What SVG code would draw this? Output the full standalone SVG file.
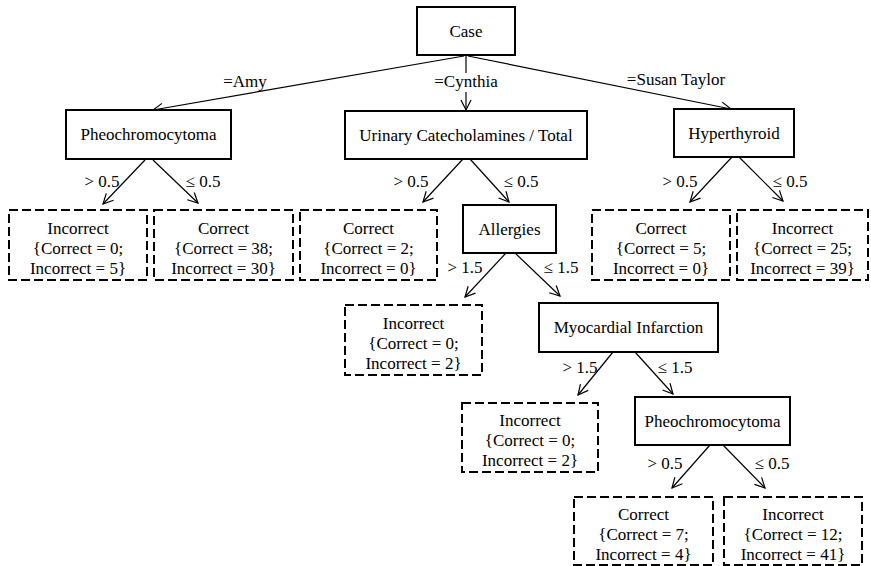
<svg xmlns="http://www.w3.org/2000/svg" width="871" height="566" viewBox="0 0 871 566">
<style>
  text { font-family: "Liberation Serif", "Times New Roman", serif; font-size: 17px; fill: #000; text-anchor: middle; }
  .node { fill: #fff; stroke: #000; stroke-width: 2; }
  .leaf { fill: #fff; stroke: #000; stroke-width: 2; stroke-dasharray: 9 4; }
  .edge { fill: none; stroke: #000; stroke-width: 1.2; }
  .arr { fill: none; stroke: #000; stroke-width: 1.2; marker-end: url(#ah); }
</style>
<defs>
  <marker id="ah" markerUnits="userSpaceOnUse" markerWidth="20" markerHeight="20" refX="10" refY="10" orient="auto" viewBox="0 0 20 20" overflow="visible">
    <path d="M0,5 L10,10 L0,15" fill="none" stroke="#000" stroke-width="1.2"/>
  </marker>
</defs>
<rect width="871" height="566" fill="#fff"/>

<g id="connectors">
  <line class="arr" x1="464" y1="56" x2="153" y2="110"/>
  <line class="edge" x1="466" y1="56" x2="466" y2="73"/>
  <line class="arr" x1="466" y1="92" x2="466" y2="110"/>
  <line class="arr" x1="468" y1="56" x2="731" y2="109"/>

  <line class="arr" x1="145" y1="160" x2="103" y2="204"/>
  <line class="arr" x1="153" y1="160" x2="198" y2="203"/>

  <line class="arr" x1="463" y1="159" x2="423" y2="202"/>
  <line class="arr" x1="470" y1="159" x2="509" y2="202"/>

  <line class="arr" x1="732" y1="157" x2="690" y2="202"/>
  <line class="arr" x1="739" y1="157" x2="783" y2="201"/>

  <line class="arr" x1="506" y1="253" x2="465" y2="297"/>
  <line class="arr" x1="515" y1="253" x2="560" y2="296"/>

  <line class="arr" x1="613" y1="352" x2="578" y2="395"/>
  <line class="arr" x1="635" y1="352" x2="673" y2="394"/>

  <line class="arr" x1="710" y1="445" x2="672" y2="488"/>
  <line class="arr" x1="723" y1="445" x2="765" y2="488"/>
</g>

<g id="edge-labels">
  <text x="245" y="87">=Amy</text>
  <text x="466" y="87">=Cynthia</text>
  <text x="676" y="85">=Susan Taylor</text>
  <text x="102" y="187">&gt; 0.5</text>
  <text x="203" y="187">≤ 0.5</text>
  <text x="411" y="187">&gt; 0.5</text>
  <text x="521" y="187">≤ 0.5</text>
  <text x="680" y="187">&gt; 0.5</text>
  <text x="790" y="187">≤ 0.5</text>
  <text x="465" y="273">&gt; 1.5</text>
  <text x="561" y="273">≤ 1.5</text>
  <text x="580" y="373">&gt; 1.5</text>
  <text x="675" y="373">≤ 1.5</text>
  <text x="665" y="469">&gt; 0.5</text>
  <text x="772" y="469">≤ 0.5</text>
</g>

<g id="n-case">
  <rect class="node" x="417" y="7" width="98" height="48"/>
  <text x="466" y="37">Case</text>
</g>
<g id="n-pheo1">
  <rect class="node" x="66" y="110" width="165" height="49"/>
  <text x="148.5" y="140">Pheochromocytoma</text>
</g>
<g id="n-urinary">
  <rect class="node" x="345" y="111" width="242" height="48"/>
  <text x="466" y="141">Urinary Catecholamines / Total</text>
</g>
<g id="n-hyper">
  <rect class="node" x="674" y="109" width="120" height="48"/>
  <text x="734" y="139">Hyperthyroid</text>
</g>
<g id="n-allergies">
  <rect class="node" x="463" y="205" width="93" height="48"/>
  <text x="509.5" y="235">Allergies</text>
</g>
<g id="n-myo">
  <rect class="node" x="539" y="303" width="179" height="49"/>
  <text x="628.5" y="333">Myocardial Infarction</text>
</g>
<g id="n-pheo2">
  <rect class="node" x="635" y="397" width="155" height="48"/>
  <text x="712.5" y="427">Pheochromocytoma</text>
</g>

<g id="leaf-1">
  <rect class="leaf" x="9" y="210" width="138" height="70"/>
  <text x="78" y="233.5">Incorrect</text>
  <text x="78" y="253.5">{Correct = 0;</text>
  <text x="78" y="273.5">Incorrect = 5}</text>
</g>
<g id="leaf-2">
  <rect class="leaf" x="154" y="210" width="139" height="70"/>
  <text x="223.5" y="233.5">Correct</text>
  <text x="223.5" y="253.5">{Correct = 38;</text>
  <text x="223.5" y="273.5">Incorrect = 30}</text>
</g>
<g id="leaf-3">
  <rect class="leaf" x="300" y="210" width="137" height="70"/>
  <text x="368.5" y="233.5">Correct</text>
  <text x="368.5" y="253.5">{Correct = 2;</text>
  <text x="368.5" y="273.5">Incorrect = 0}</text>
</g>
<g id="leaf-4">
  <rect class="leaf" x="592" y="210" width="138" height="70"/>
  <text x="661" y="233.5">Correct</text>
  <text x="661" y="253.5">{Correct = 5;</text>
  <text x="661" y="273.5">Incorrect = 0}</text>
</g>
<g id="leaf-5">
  <rect class="leaf" x="737" y="210" width="131" height="70"/>
  <text x="802.5" y="233.5">Incorrect</text>
  <text x="802.5" y="253.5">{Correct = 25;</text>
  <text x="802.5" y="273.5">Incorrect = 39}</text>
</g>
<g id="leaf-6">
  <rect class="leaf" x="345" y="305" width="137" height="70"/>
  <text x="413.5" y="328.5">Incorrect</text>
  <text x="413.5" y="348.5">{Correct = 0;</text>
  <text x="413.5" y="368.5">Incorrect = 2}</text>
</g>
<g id="leaf-7">
  <rect class="leaf" x="462" y="403" width="136" height="69"/>
  <text x="530" y="426">Incorrect</text>
  <text x="530" y="446">{Correct = 0;</text>
  <text x="530" y="466">Incorrect = 2}</text>
</g>
<g id="leaf-8">
  <rect class="leaf" x="574" y="497" width="139" height="68"/>
  <text x="643.5" y="519.5">Correct</text>
  <text x="643.5" y="539.5">{Correct = 7;</text>
  <text x="643.5" y="559.5">Incorrect = 4}</text>
</g>
<g id="leaf-9">
  <rect class="leaf" x="724" y="497" width="138" height="68"/>
  <text x="793" y="519.5">Incorrect</text>
  <text x="793" y="539.5">{Correct = 12;</text>
  <text x="793" y="559.5">Incorrect = 41}</text>
</g>
</svg>
